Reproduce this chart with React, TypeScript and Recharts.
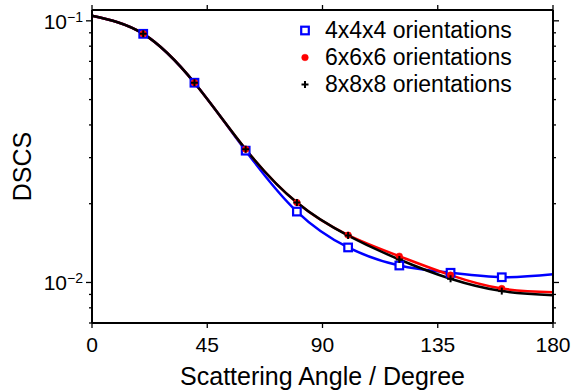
import React from 'react';
import { LineChart, Line, XAxis, YAxis, Legend } from 'recharts';

const angles = [0, 20, 40, 60, 80, 100, 120, 140, 160, 180];
const dscs4 = [0.1045, 0.0892, 0.058, 0.0319, 0.01866, 0.01361, 0.01161, 0.01089, 0.01047, 0.01074];
const dscs6 = [0.1045, 0.0892, 0.058, 0.0323, 0.0202, 0.01517, 0.0126, 0.01067, 0.00948, 0.00918];
const dscs8 = [0.1045, 0.0892, 0.058, 0.0323, 0.0202, 0.01511, 0.01224, 0.01033, 0.00927, 0.00894];
const xTicks = [0, 45, 90, 135, 180];
const yTicks = [0.007, 0.008, 0.009, 0.01, 0.02, 0.03, 0.04, 0.05, 0.06, 0.07, 0.08, 0.09, 0.1];
const majorY = [0.01, 0.1];
const majorYExp = ['\u22122', '\u22121'];
const seriesNames = ['4x4x4 orientations', '6x6x6 orientations', '8x8x8 orientations'];
const seriesKeys = ['d4', 'd6', 'd8'];
const seriesColors = ['#0000ff', '#ff0000', '#000000'];

const FONT = '"Liberation Sans", Arial, Helvetica, sans-serif';

const data = angles.map((a, i) => ({ angle: a, d4: dscs4[i], d6: dscs6[i], d8: dscs8[i] }));

const Marker = ({ kind, cx, cy }: { kind: string; cx: number; cy: number }) => {
  if (kind === 'd4') {
    return <rect x={cx - 3.8} y={cy - 3.8} width={7.6} height={7.6} fill="#ffffff" stroke="#0000ff" strokeWidth={2.2} />;
  }
  if (kind === 'd6') {
    return <circle cx={cx} cy={cy} r={3.3} fill="#ff0000" stroke="#ff0000" strokeWidth={0.5} />;
  }
  return (
    <g>
      <line x1={cx - 3.5} x2={cx + 3.5} y1={cy} y2={cy} stroke="#000" strokeWidth={2} />
      <line x1={cx} x2={cx} y1={cy - 3.5} y2={cy + 3.5} stroke="#000" strokeWidth={2} />
    </g>
  );
};

const makeDot = (kind: string) => (props: any) => {
  const { cx, cy, payload, index } = props;
  const k = `${kind}-${index}`;
  if (payload.angle === 0 || payload.angle === 180 || cx == null || cy == null) return <g key={k} />;
  return (
    <g key={k}>
      <Marker kind={kind} cx={cx} cy={cy} />
    </g>
  );
};

const LeftTick = (props: any) => {
  const { x, y, payload } = props;
  const mi = majorY.indexOf(payload.value);
  const major = mi >= 0;
  const len = major ? 6 : 3;
  return (
    <g>
      <line x1={x - len} x2={x} y1={y} y2={y} stroke="#000" strokeWidth={1.3} />
      {major && (
        <text x={x - 9} y={y + 8} textAnchor="end" fontSize={21} fontFamily={FONT} fill="#000">
          <tspan>10</tspan>
          <tspan fontSize={14} dy={-7}>{majorYExp[mi]}</tspan>
        </text>
      )}
    </g>
  );
};

const RightTick = (props: any) => {
  const { x, y, payload } = props;
  const major = majorY.indexOf(payload.value) >= 0;
  const len = major ? 6 : 3;
  return <line x1={x} x2={x + len} y1={y} y2={y} stroke="#000" strokeWidth={1.3} />;
};

const BottomTick = (props: any) => {
  const { x, y, payload } = props;
  return (
    <g>
      <line x1={x} x2={x} y1={y} y2={y + 5} stroke="#000" strokeWidth={1.3} />
      <text x={x} y={y + 29} textAnchor="middle" fontSize={21} fontFamily={FONT} fill="#000">
        {payload.value}
      </text>
    </g>
  );
};

const TopTick = (props: any) => {
  const { x, y } = props;
  return <line x1={x} x2={x} y1={y - 5} y2={y} stroke="#000" strokeWidth={1.3} />;
};

const renderLegend = () => (
  <div style={{ fontFamily: FONT, fontSize: 23, color: '#000' }}>
    {seriesNames.map((n, i) => (
      <div key={n} style={{ display: 'flex', alignItems: 'center', height: 27, lineHeight: '27px' }}>
        <svg width={20} height={27} style={{ display: 'block' }}>
          <Marker kind={seriesKeys[i]} cx={10} cy={13.5} />
        </svg>
        <span style={{ marginLeft: 10, whiteSpace: 'nowrap' }}>{n}</span>
      </div>
    ))}
  </div>
);

export default function App() {
  return (
    <div style={{ position: 'absolute', left: 0, top: 0, width: 571, height: 392, background: '#fff' }}>
      <LineChart width={571} height={392} data={data} margin={{ top: 5, right: 10, bottom: 0, left: 0 }}>
        <XAxis
          xAxisId="b"
          dataKey="angle"
          type="number"
          domain={[0, 180]}
          ticks={xTicks}
          interval={0}
          height={69}
          tickLine={false}
          tickSize={0}
          tickMargin={0}
          tick={BottomTick}
          axisLine={{ stroke: '#000', strokeWidth: 2 }}
          label={{
            content: (p: any) => {
              const vb = p.viewBox || { x: 92, width: 461 };
              return (
                <text x={vb.x + vb.width / 2} y={385} textAnchor="middle" fontSize={25} fontFamily={FONT} fill="#000">
                  Scattering Angle / Degree
                </text>
              );
            },
          }}
        />
        <XAxis
          xAxisId="t"
          orientation="top"
          dataKey="angle"
          type="number"
          domain={[0, 180]}
          ticks={xTicks}
          interval={0}
          height={5}
          tickLine={false}
          tickSize={0}
          tickMargin={0}
          tick={TopTick}
          axisLine={{ stroke: '#000', strokeWidth: 2 }}
        />
        <YAxis
          yAxisId="l"
          scale="log"
          type="number"
          domain={[0.007, 0.11]}
          allowDataOverflow
          ticks={yTicks}
          interval={0}
          width={92}
          tickLine={false}
          tickSize={0}
          tickMargin={0}
          tick={LeftTick}
          axisLine={{ stroke: '#000', strokeWidth: 2 }}
          label={{
            content: (p: any) => {
              const vb = p.viewBox || { y: 10, height: 313 };
              const cy = vb.y + vb.height / 2;
              return (
                <text x={31} y={cy} textAnchor="middle" fontSize={25} fontFamily={FONT} fill="#000" transform={`rotate(-90 31 ${cy})`}>
                  DSCS
                </text>
              );
            },
          }}
        />
        <YAxis
          yAxisId="r"
          orientation="right"
          scale="log"
          type="number"
          domain={[0.007, 0.11]}
          allowDataOverflow
          ticks={yTicks}
          interval={0}
          width={8}
          tickLine={false}
          tickSize={0}
          tickMargin={0}
          tick={RightTick}
          axisLine={{ stroke: '#000', strokeWidth: 2 }}
        />
        <Legend
          layout="vertical"
          verticalAlign="middle"
          align="center"
          content={renderLegend}
          wrapperStyle={{ top: 17, left: 295, width: 260, height: 81 }}
        />
        {seriesKeys.map((k, i) => (
          <Line
            key={k}
            xAxisId="b"
            yAxisId="l"
            dataKey={k}
            name={seriesNames[i]}
            type="natural"
            stroke={seriesColors[i]}
            strokeWidth={2.5}
            dot={makeDot(k)}
            activeDot={false}
            isAnimationActive={false}
          />
        ))}
      </LineChart>
    </div>
  );
}
